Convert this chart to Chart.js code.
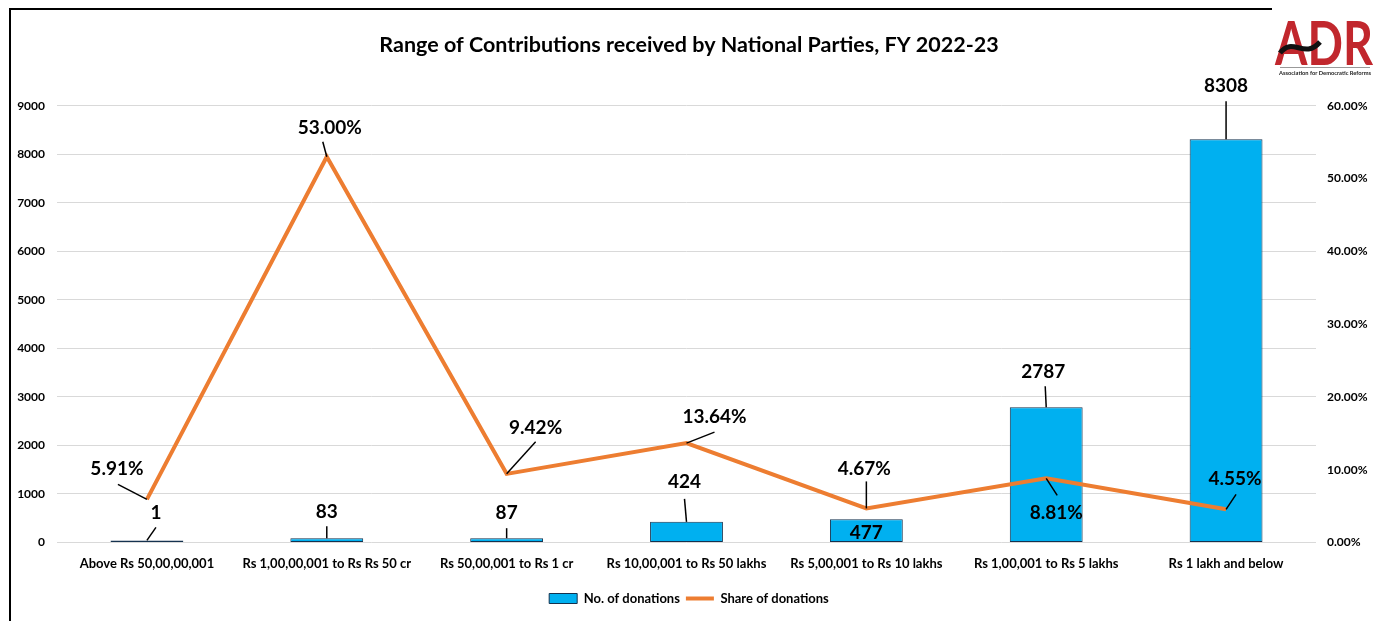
<!DOCTYPE html>
<html>
<head>
<meta charset="utf-8">
<script src="https://cdn.jsdelivr.net/npm/chart.js@4.4.0/dist/chart.umd.min.js"></script>
<style>
    html, body { margin: 0; padding: 0; background: #fff; }
    #wrap { position: relative; width: 1378px; height: 621px; }
</style>
</head>
<body>
<div id="wrap"><canvas id="myChart" width="1378" height="621"></canvas></div>
<script>
// data
var categories = ['Above Rs 50,00,00,001', 'Rs 1,00,00,001 to Rs Rs 50 cr', 'Rs 50,00,001 to Rs 1 cr',
    'Rs 10,00,001 to Rs 50 lakhs', 'Rs 5,00,001 to Rs 10 lakhs', 'Rs 1,00,001 to Rs 5 lakhs', 'Rs 1 lakh and below'];
var donationCounts = [1, 83, 87, 424, 477, 2787, 8308];
var donationShares = [5.91, 53.00, 9.42, 13.64, 4.67, 8.81, 4.55];
var seriesNames = ['No. of donations', 'Share of donations'];
var countAxis = { max: 9000, step: 1000 };
var shareAxis = { max: 60, step: 10 };

// label placement: [text dx, text dy, leader dx, leader dy] from the mark
var countLabelPos = [[9, -28, 9, -13], [0, -26, 0, -12], [0, -25, 0, -10], [-2, -40, -2, -23], [0, 14, null, null], [-3, -35, -1, -21], [0, -53, 0, -38]];
var shareLabelPos = [[-30, -31, -29, -15], [3, -29, -4, -15], [29, -46, 29, -32], [28, -26, 28, -11], [-2, -40, 0, -27], [10, 35, 11, 17], [9, -30, 10, -15]];

var FONT = "Lato, 'DejaVu Sans Condensed', sans-serif";
var BLUE = '#00B0F0';
var ORANGE = '#ED7D31';
var EDGE = '#15324F';

var labelPlugin = {
    id: 'calloutLabels',
    afterDatasetsDraw: function (chart) {
        var ctx = chart.ctx;
        ctx.save();
        ctx.font = 'bold 19px ' + FONT;
        ctx.textAlign = 'center';
        ctx.textBaseline = 'middle';
        ctx.strokeStyle = '#000';
        ctx.fillStyle = '#000';
        ctx.lineWidth = 1.5;
        var sets = [
            { meta: chart.getDatasetMeta(0), pos: countLabelPos, values: donationCounts, fmt: function (v) { return String(v); } },
            { meta: chart.getDatasetMeta(1), pos: shareLabelPos, values: donationShares, fmt: function (v) { return v.toFixed(2) + '%'; } }
        ];
        sets.forEach(function (s) {
            s.meta.data.forEach(function (el, i) {
                var p = s.pos[i];
                if (p[2] !== null) {
                    ctx.beginPath();
                    ctx.moveTo(el.x, el.y);
                    ctx.lineTo(el.x + p[2], el.y + p[3]);
                    ctx.stroke();
                }
                ctx.fillText(s.fmt(s.values[i]), el.x + p[0], el.y + p[1]);
            });
        });
        ctx.restore();
    },
    beforeDraw: function (chart) {
        var ctx = chart.ctx;
        ctx.save();
        ctx.fillStyle = '#fff';
        ctx.fillRect(0, 0, chart.width, chart.height);
        // frame
        ctx.strokeStyle = '#000';
        ctx.lineWidth = 2;
        ctx.beginPath();
        ctx.moveTo(10, chart.height);
        ctx.lineTo(10, 9);
        ctx.lineTo(1272, 9);
        ctx.stroke();
        ctx.restore();
    },
    afterDraw: function (chart) {
        // ADR logo
        var ctx = chart.ctx;
        ctx.save();
        ctx.fillStyle = '#C1272D';
        ctx.font = 'bold 62px ' + FONT;
        ctx.textAlign = 'center';
        ctx.textBaseline = 'alphabetic';
        ctx.fillText('ADR', 1324, 65, 98);
        ctx.strokeStyle = '#111';
        ctx.lineWidth = 5;
        ctx.beginPath();
        ctx.moveTo(1280, 53);
        ctx.bezierCurveTo(1293, 36, 1304, 60, 1320, 42);
        ctx.stroke();
        ctx.strokeStyle = '#999';
        ctx.lineWidth = 1;
        ctx.beginPath();
        ctx.moveTo(1280, 67.5);
        ctx.lineTo(1370, 67.5);
        ctx.stroke();
        ctx.fillStyle = '#222';
        ctx.font = 'bold 6px ' + FONT;
        ctx.fillText('Association for Democratic Reforms', 1325, 75, 92);
        ctx.restore();
    }
};

var ctx1 = document.getElementById('myChart').getContext('2d');
var myChart = new Chart(ctx1, {
    type: 'bar',
    data: {
        labels: categories,
        datasets: [{
            type: 'bar',
            label: seriesNames[0],
            data: donationCounts,
            backgroundColor: BLUE,
            borderColor: EDGE,
            borderWidth: 1,
            borderSkipped: false,
            minBarLength: 2,
            categoryPercentage: 1,
            barPercentage: 0.405,
            yAxisID: 'y',
            order: 1
        }, {
            type: 'line',
            label: seriesNames[1],
            data: donationShares,
            borderColor: ORANGE,
            backgroundColor: ORANGE,
            borderWidth: 4,
            pointRadius: 0,
            tension: 0,
            yAxisID: 'y1',
            order: 0
        }]
    },
    plugins: [labelPlugin],
    options: {
        responsive: false,
        animation: false,
        layout: { padding: { left: 0, right: 0, top: 0, bottom: 6 } },
        plugins: {
            tooltip: { enabled: false },
            title: {
                display: true,
                text: 'Range of Contributions received by National Parties, FY 2022-23',
                color: '#000',
                font: { family: FONT, size: 21.5, weight: 'bold' },
                padding: { top: 32, bottom: 48 }
            },
            legend: {
                position: 'bottom',
                labels: {
                    usePointStyle: true,
                    pointStyleWidth: 28,
                    boxHeight: 10,
                    padding: 6,
                    color: '#000',
                    font: { family: FONT, size: 13, weight: 'bold' },
                    generateLabels: function (chart) {
                        return [{
                            text: seriesNames[0], datasetIndex: 0, pointStyle: 'rect',
                            fillStyle: BLUE, strokeStyle: EDGE, lineWidth: 1, fontColor: '#000'
                        }, {
                            text: seriesNames[1], datasetIndex: 1, pointStyle: 'line',
                            fillStyle: ORANGE, strokeStyle: ORANGE, lineWidth: 4, fontColor: '#000'
                        }];
                    }
                }
            }
        },
        scales: {
            x: {
                grid: { display: false, drawTicks: false },
                border: { display: false },
                ticks: {
                    color: '#000',
                    padding: 14,
                    maxRotation: 0,
                    autoSkip: false,
                    font: { family: FONT, size: 13, weight: 'bold' }
                }
            },
            y: {
                position: 'left',
                min: 0,
                max: countAxis.max,
                afterFit: function (s) { s.width = 57; },
                grid: { color: '#D9D9D9', drawTicks: false },
                border: { display: false },
                ticks: {
                    stepSize: countAxis.step,
                    padding: 12,
                    color: '#000',
                    font: { family: FONT, size: 12, weight: 'bold' },
                    callback: function (v) { return String(v); }
                }
            },
            y1: {
                position: 'right',
                min: 0,
                max: shareAxis.max,
                afterFit: function (s) { s.width = 62; },
                grid: { display: false, drawTicks: false },
                border: { display: false },
                ticks: {
                    stepSize: shareAxis.step,
                    padding: 11,
                    color: '#000',
                    font: { family: FONT, size: 12, weight: 'bold' },
                    callback: function (v) { return v.toFixed(2) + '%'; }
                }
            }
        }
    }
});
</script>
</body>
</html>
